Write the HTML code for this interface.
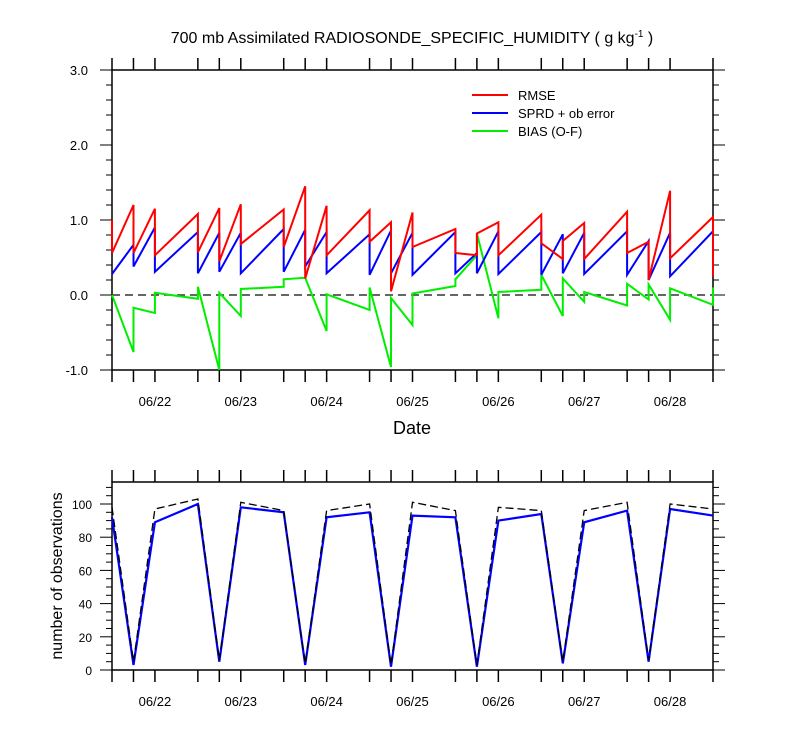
<!DOCTYPE html>
<html><head><meta charset="utf-8"><style>
body{margin:0;background:#fff}
svg{display:block;font-family:"Liberation Sans",sans-serif}
</style></head><body>
<svg id="c" width="800" height="750" viewBox="0 0 800 750">
<text x="412" y="43" text-anchor="middle" font-size="16">700 mb Assimilated RADIOSONDE_SPECIFIC_HUMIDITY ( g kg<tspan dy="-6" font-size="10">-1</tspan><tspan dy="6"> )</tspan></text>
<text x="412" y="434" text-anchor="middle" font-size="18">Date</text>
<text transform="translate(62,576) rotate(-90)" text-anchor="middle" font-size="16">number of observations</text>
<g id="legend">
<line x1="472" y1="95" x2="508" y2="95" stroke="#f00" stroke-width="2"/>
<text x="518" y="100" font-size="13">RMSE</text>
<line x1="472" y1="113" x2="508" y2="113" stroke="#00f" stroke-width="2"/>
<text x="518" y="118" font-size="13">SPRD + ob error</text>
<line x1="472" y1="131" x2="508" y2="131" stroke="#0e0" stroke-width="2"/>
<text x="518" y="136" font-size="13">BIAS (O-F)</text>
</g>
</svg>
<script>
const hours=[0,6,12,24,30,36,48,54,60,72,78,84,96,102,108,120,126,132,144,150,156,168];
const dateLabels=["06/22","06/23","06/24","06/25","06/26","06/27","06/28"];
const dateHours=[12,36,60,84,108,132,156];
const rmsePrior=[1.0,1.2,1.15,1.08,1.16,1.21,1.14,1.45,1.19,1.13,0.97,1.1,0.88,0.53,0.97,1.07,0.48,0.96,1.11,0.71,1.39,1.04];
const rmsePost=[0.56,0.56,0.53,0.57,0.45,0.68,0.64,0.22,0.53,0.71,0.05,0.64,0.56,0.82,0.53,0.69,0.72,0.48,0.56,0.2,0.49,0.25];
const sprdPrior=[0.28,0.67,0.9,0.84,0.83,0.83,0.88,0.87,0.84,0.81,0.86,0.83,0.84,0.56,0.85,0.84,0.81,0.83,0.85,0.72,0.83,0.85];
const sprdPost=[0.28,0.38,0.31,0.29,0.31,0.29,0.31,0.38,0.29,0.27,0.29,0.27,0.29,0.29,0.28,0.27,0.29,0.28,0.27,0.2,0.25,0.27];
const biasPrior=[0.0,-0.76,-0.24,-0.05,-1.0,-0.28,0.11,0.23,-0.48,-0.2,-0.96,-0.4,0.12,0.53,-0.31,0.07,-0.28,-0.09,-0.14,-0.06,-0.33,-0.13];
const biasPost=[0.0,-0.17,0.03,0.11,0.03,0.08,0.21,0.23,0.01,0.1,-0.04,0.02,0.21,0.82,0.04,0.27,0.22,0.04,0.15,0.14,0.09,0.1];
const obsUsed=[92,3,89,100,5,98,95,3,92,95,2,93,92,2,90,94,4,89,96,5,97,93];
const obsTotal=[98,5,97,103,6,101,96,4,96,100,3,101,96,3,98,96,5,96,101,6,100,97];
const topTicks=[-1,0,1,2,3];
const botTicks=[0,20,40,60,80,100];

const NS="http://www.w3.org/2000/svg",svg=document.getElementById('c');
function mk(t,a,p){const e=document.createElementNS(NS,t);for(const k in a)e.setAttribute(k,a[k]);(p||svg).appendChild(e);return e;}
const X0=112,X1=713;
const xs=h=>X0+h*(X1-X0)/168;
const yT=v=>370-(v+1)*75;
const yB=v=>670-v*1.66;

function frame(top,bot,name){
  const g=mk('g',{});
  
  
  mk('rect',{x:X0,y:top,width:X1-X0,height:bot-top,fill:'none',stroke:'#000','stroke-width':1.5},g);
  hours.forEach(h=>{const x=xs(h);
    mk('line',{x1:x,y1:bot,x2:x,y2:bot+12,stroke:'#000','stroke-width':1.5},g);
    mk('line',{x1:x,y1:top,x2:x,y2:top-12,stroke:'#000','stroke-width':1.5},g);});
  dateLabels.forEach((d,i)=>{const t=mk('text',{x:xs(dateHours[i]),y:bot+36,'text-anchor':'middle','font-size':13},g);
    
    
    t.textContent=d;});
  return g;
}
const gT=frame(70,370,'top-panel');
const gB=frame(482,670,'bottom-panel');
for(let v=-1;v<=3.001;v+=0.2){const y=yT(v),maj=Math.abs(v-Math.round(v))<1e-6,l=maj?12:6;
  mk('line',{x1:X0-l,y1:y,x2:X0,y2:y,stroke:'#000','stroke-width':1},gT);
  mk('line',{x1:X1,y1:y,x2:X1+l,y2:y,stroke:'#000','stroke-width':1},gT);}
topTicks.forEach(v=>{const t=mk('text',{x:88,y:yT(v)+5,'text-anchor':'end','font-size':13},gT);
  
  
  t.textContent=v.toFixed(1);});
for(let v=0;v<=110;v+=5){const y=yB(v),maj=v%20==0,l=maj?12:6;
  mk('line',{x1:X0-l,y1:y,x2:X0,y2:y,stroke:'#000','stroke-width':1},gB);
  mk('line',{x1:X1,y1:y,x2:X1+l,y2:y,stroke:'#000','stroke-width':1},gB);}
botTicks.forEach(v=>{const t=mk('text',{x:92,y:yB(v)+5,'text-anchor':'end','font-size':12},gB);
  
  
  t.textContent=v;});
const z=mk('line',{x1:X0,y1:yT(0),x2:X1,y2:yT(0),stroke:'#333','stroke-width':1.5,'stroke-dasharray':'8,5'});


function saw(prior,post,col,name){
  let d='';
  hours.forEach((h,i)=>{const x=xs(h).toFixed(1);
    d+=(i?'L':'M')+x+','+yT(prior[i]).toFixed(1)+'L'+x+','+yT(post[i]).toFixed(1);});
  const p=mk('path',{d:d,fill:'none',stroke:col,'stroke-width':2});
  
  
}
saw(biasPrior,biasPost,'#0e0','bias-line');
saw(sprdPrior,sprdPost,'#00f','sprd-line');
saw(rmsePrior,rmsePost,'#f00','rmse-line');
function line(vals,attrs,name){
  const d=vals.map((v,i)=>(i?'L':'M')+xs(hours[i]).toFixed(1)+','+yB(v).toFixed(1)).join('');
  const p=mk('path',Object.assign({d:d,fill:'none'},attrs));
  
  
}
line(obsUsed,{stroke:'#00f','stroke-width':2.2},'obs-used-line');
line(obsTotal,{stroke:'#000','stroke-width':1.3,'stroke-dasharray':'8,4'},'obs-total-line');
</script>
</body></html>
